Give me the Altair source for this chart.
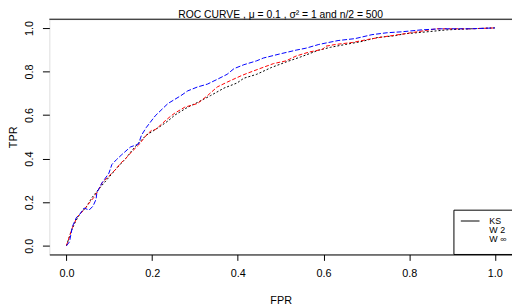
import altair as alt
import pandas as pd

# ---- data ----
methods = ["KS", "W 2", "W ∞"]
colors = ["black", "red", "blue"]

fpr_ks = [0, .005, .011, .021, .030, .046, .060, .076, .092, .115, .138, .154, .168, .186, .207, .221,
          .237, .253, .283, .306, .336, .368, .398, .414, .444, .478, .513, .547, .589, .616, .651,
          .690, .726, .766, .789, .841, .887, .943, 1.0]
tpr_ks = [0, .031, .067, .111, .142, .178, .222, .262, .298, .351, .400, .440, .471, .507, .533, .551,
          .573, .600, .636, .658, .689, .724, .747, .769, .787, .818, .844, .867, .898, .911, .924,
          .938, .956, .964, .973, .982, .991, .996, 1.0]

fpr_w2 = [0, .002, .014, .025, .041, .053, .064, .074, .083, .099, .115, .126, .138, .152, .168, .179,
          .186, .198, .207, .221, .230, .244, .253, .276, .306, .329, .352, .375, .405, .421, .451,
          .483, .513, .536, .566, .598, .605, .628, .667, .703, .743, .789, .818, .864, .943, 1.0]
tpr_w2 = [0, .013, .084, .133, .164, .196, .222, .253, .289, .320, .351, .378, .400, .431, .462, .489,
          .507, .529, .533, .556, .573, .596, .609, .636, .653, .689, .729, .751, .778, .791, .813,
          .836, .849, .871, .889, .902, .916, .924, .933, .947, .960, .973, .982, .996, .996, 1.0]

fpr_winf = [0, .007, .014, .023, .030, .041, .053, .062, .069, .071, .083, .099, .106, .117, .129, .149,
            .168, .175, .186, .207, .230, .237, .267, .283, .306, .329, .352, .375, .391, .414, .444,
            .460, .497, .536, .559, .589, .634, .674, .713, .749, .782, .828, .874, .943, 1.0]
tpr_winf = [0, .018, .089, .129, .142, .173, .164, .182, .213, .244, .289, .333, .373, .396, .418, .453,
            .467, .507, .542, .596, .640, .653, .689, .711, .729, .742, .764, .787, .813, .831, .849,
            .862, .880, .898, .907, .924, .942, .951, .969, .978, .982, .991, .996, .996, 1.0]

x_ticks = [0.0, 0.2, 0.4, 0.6, 0.8, 1.0]
y_ticks = [0.0, 0.2, 0.4, 0.6, 0.8, 1.0]
title_text = ["ROC CURVE , μ = 0.1 , σ² = 1 and n/2 = 500"]

rows = []
for name, xs, ys in [("KS", fpr_ks, tpr_ks), ("W 2", fpr_w2, tpr_w2), ("W ∞", fpr_winf, tpr_winf)]:
    for i, (a, b) in enumerate(zip(xs, ys)):
        rows.append({"method": name, "fpr": a, "tpr": b, "i": i})
df = pd.DataFrame(rows)

W, H = 470, 239
FONT = "Liberation Sans"
xscale = alt.Scale(domain=[-0.04, 1.04], nice=False, zero=False)
yscale = alt.Scale(domain=[-0.04, 1.04], nice=False, zero=False)

lines = alt.Chart(df).mark_line(strokeWidth=1).encode(
    x=alt.X("fpr:Q", scale=xscale,
            axis=alt.Axis(title="FPR", values=x_ticks, format=".1f", grid=False,
                          domainColor="black", tickColor="black", tickSize=6,
                          labelPadding=7, titleY=50, titleBaseline="alphabetic",
                          labelFontSize=11, titleFontSize=11,
                          titleFontWeight="normal", labelColor="black", titleColor="black",
                          labelFont=FONT, titleFont=FONT, labelFlush=False)),
    y=alt.Y("tpr:Q", scale=yscale,
            axis=alt.Axis(title="TPR", values=y_ticks, format=".1f", grid=False, domain=False,
                          tickColor="black", tickSize=7, labelAngle=270, labelAlign="center",
                          labelBaseline="bottom", labelPadding=8,
                          titleX=-33, titleY=H / 2, titleAngle=270, titleAlign="center",
                          titleBaseline="alphabetic",
                          labelFontSize=11, titleFontSize=11, titleFontWeight="normal",
                          labelColor="black", titleColor="black", labelFont=FONT, titleFont=FONT,
                          labelFlush=False)),
    color=alt.Color("method:N", scale=alt.Scale(domain=methods, range=colors), legend=None),
    strokeDash=alt.StrokeDash("method:N", scale=alt.Scale(domain=methods, range=[[2, 2], [4, 2], [5, 2]]),
                              legend=None),
    order="i:Q",
)

top_line = alt.Chart(pd.DataFrame({"a": [0]})).mark_rule(color="black", strokeWidth=1).encode(
    x=alt.value(0), x2=alt.value(W), y=alt.value(0))

title_mark = alt.Chart(pd.DataFrame({"t": title_text})).mark_text(
    align="center", baseline="alphabetic", fontSize=10.5, font=FONT, color="black").encode(
    x=alt.value(W / 2), y=alt.value(-1.5), text="t:N")

legend_df = pd.DataFrame({"label": methods, "row": [0, 1, 2]})
legend_box = alt.Chart(pd.DataFrame({"a": [0]})).mark_rect(fill="white", stroke="black", strokeWidth=1).encode(
    x=alt.value(411), x2=alt.value(490), y=alt.value(194), y2=alt.value(H))
legend_line = alt.Chart(pd.DataFrame({"a": [0]})).mark_rule(color="black", strokeWidth=1).encode(
    x=alt.value(418), x2=alt.value(437), y=alt.value(205))
legend_text = alt.Chart(legend_df).mark_text(align="left", baseline="middle", fontSize=9,
                                              font=FONT, color="black").transform_calculate(
    py="205 + 9 * datum.row").encode(
    x=alt.value(447), y=alt.Y("py:Q", scale=None, axis=None), text="label:N")

chart = alt.layer(lines, top_line, title_mark, legend_box, legend_line, legend_text).properties(
    width=W, height=H,
    autosize=alt.AutoSizeParams(type="none"),
    padding={"left": 42, "top": 9, "right": 0, "bottom": 52},
).configure_view(stroke=None).configure(background="white")

chart.save("out.html", embed_options={"renderer": "svg", "actions": False})
